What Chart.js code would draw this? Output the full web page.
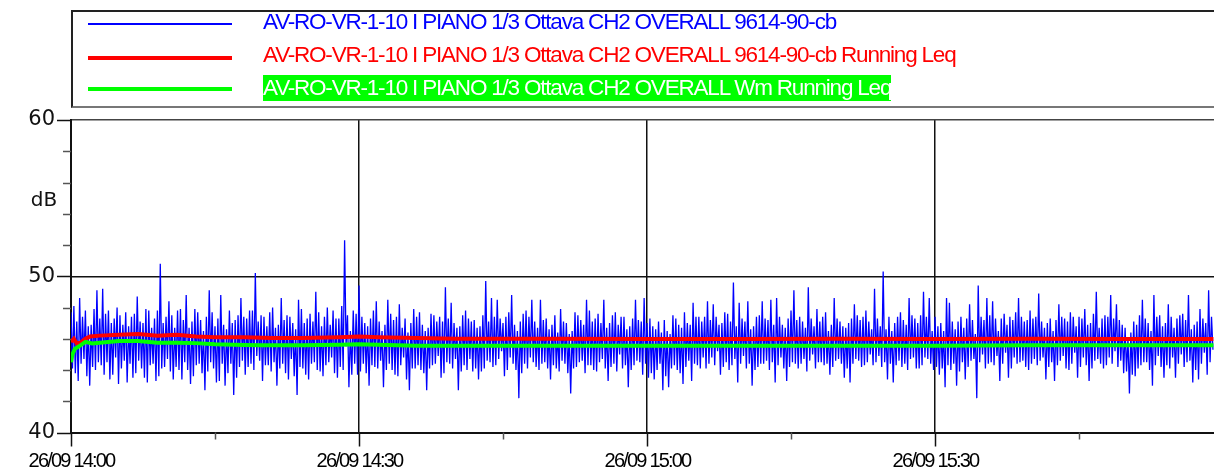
<!DOCTYPE html>
<html>
<head>
<meta charset="utf-8">
<title>AV-RO-VR-1-10 I PIANO - CH2 OVERALL</title>
<script src="https://cdn.jsdelivr.net/npm/chart.js@4.4.1/dist/chart.umd.min.js"></script>
<style>
  html, body { margin: 0; padding: 0; background: #fff; }
  #wrap { position: relative; width: 1214px; height: 470px; overflow: hidden; }
  #chart { position: absolute; left: 0; top: 0; }
  #legend {
    position: absolute; left: 71px; top: 10px; width: 1200px; height: 94px;
    border-top: 2px solid #222; border-left: 2px solid #222; border-bottom: 2px solid #777;
    font-family: "Liberation Sans", Arial, sans-serif; font-size: 22.5px; letter-spacing: -1.2px;
    background: #fff;
  }
  .lg-line { position: absolute; left: 15px; width: 144px; }
  .lg-text { position: absolute; left: 190px; line-height: 26px; white-space: nowrap; }
</style>
</head>
<body>
<div id="wrap">
  <canvas id="chart" width="1214" height="470"></canvas>
  <div id="legend">
    <div class="lg-line" style="top:11px;height:1.5px;background:#0000ff"></div>
    <div class="lg-text" style="top:-3px;color:#0000ff">AV-RO-VR-1-10 I PIANO 1/3 Ottava CH2 OVERALL 9614-90-cb</div>
    <div class="lg-line" style="top:44px;height:4px;background:#ff0000"></div>
    <div class="lg-text" style="top:30px;color:#ff0000">AV-RO-VR-1-10 I PIANO 1/3 Ottava CH2 OVERALL 9614-90-cb Running Leq</div>
    <div class="lg-line" style="top:75px;height:4px;background:#00ff00"></div>
    <div class="lg-text" style="top:63px;color:#fff;background:#00ff00">AV-RO-VR-1-10 I PIANO 1/3 Ottava CH2 OVERALL Wm Running Leq</div>
  </div>
</div>
<script>
// =======================
// Data (minutes after 26/09 14:00, dB)
// =======================

const dateLabel = "26/09";
const startHour = 14;

// blue trace, 18 s bins from 14:00: highest and lowest level in each bin
const blueBinMin = 0.3;
const blueHigh = [
  47.7, 48.1, 47.1, 48.6, 47.4, 47.8, 46.8, 46.9, 47.9, 49.1, 47.3, 49.2, 47.6, 47.8, 47.0, 47.3, 48.0, 47.5, 46.9, 47.7,
  46.8, 47.4, 47.6, 48.7, 47.1, 47.0, 47.9, 47.8, 46.7, 47.3, 47.8, 50.8, 47.0, 47.4, 48.4, 47.5, 46.7, 47.8, 47.9, 47.2,
  48.8, 46.7, 47.1, 47.9, 47.7, 47.2, 46.5, 47.4, 49.1, 47.7, 46.8, 47.3, 48.8, 46.9, 46.6, 47.8, 47.0, 47.2, 47.5, 48.6,
  47.4, 47.3, 47.8, 47.8, 50.2, 47.1, 47.5, 47.4, 46.8, 47.7, 48.0, 46.7, 46.9, 48.6, 47.2, 47.5, 47.4, 47.0, 46.6, 48.5,
  47.9, 47.0, 47.3, 47.6, 47.1, 49.0, 47.7, 46.8, 47.4, 48.0, 46.9, 47.8, 47.3, 47.3, 48.1, 52.3, 47.5, 46.5, 47.8, 47.6,
  49.4, 47.4, 47.0, 46.8, 47.3, 47.8, 48.4, 47.1, 46.5, 46.9, 48.5, 47.6, 47.2, 47.4, 48.2, 46.7, 47.3, 46.4, 47.0, 47.9,
  47.4, 47.7, 46.9, 46.5, 46.7, 47.6, 47.5, 47.1, 47.4, 47.1, 49.3, 47.3, 48.3, 47.0, 46.7, 46.8, 47.5, 47.8, 47.3, 47.1,
  47.2, 46.7, 46.8, 47.5, 49.7, 47.1, 48.6, 47.4, 48.5, 47.3, 47.0, 47.4, 47.7, 48.8, 46.9, 46.5, 47.1, 47.6, 47.8, 47.4,
  48.5, 47.1, 46.7, 48.5, 47.2, 47.3, 46.6, 46.9, 47.5, 46.4, 47.9, 47.1, 47.0, 46.3, 46.5, 47.7, 47.5, 47.2, 46.9, 48.5,
  47.8, 47.1, 47.3, 47.6, 47.0, 48.5, 46.7, 47.0, 47.5, 47.7, 46.9, 47.4, 47.4, 46.6, 46.8, 47.3, 48.5, 47.2, 47.1, 48.6,
  47.0, 47.3, 46.8, 46.6, 47.1, 46.4, 47.2, 46.5, 46.3, 47.5, 47.3, 46.9, 46.7, 47.7, 47.0, 46.9, 48.3, 47.4, 47.4, 47.1,
  47.4, 48.4, 47.2, 48.2, 47.4, 46.9, 47.0, 47.7, 47.6, 47.1, 49.6, 46.8, 48.3, 47.3, 47.1, 48.4, 46.6, 46.8, 47.4, 47.5,
  48.4, 47.3, 47.2, 48.5, 46.9, 48.6, 47.4, 46.9, 46.7, 47.3, 47.8, 49.1, 47.2, 47.4, 47.1, 46.7, 49.3, 47.3, 46.8, 47.9,
  47.1, 47.4, 47.7, 46.5, 46.9, 48.6, 47.3, 47.1, 46.8, 46.7, 47.0, 47.3, 48.2, 47.5, 47.2, 47.4, 47.8, 47.1, 46.6, 49.2,
  47.3, 46.8, 50.3, 46.6, 47.4, 46.5, 47.0, 47.4, 47.7, 47.2, 46.9, 48.6, 47.5, 47.3, 47.0, 47.5, 49.0, 47.4, 48.6, 46.5,
  47.4, 46.8, 47.0, 46.5, 48.6, 48.3, 47.1, 46.6, 47.1, 47.4, 46.7, 47.3, 48.2, 47.2, 46.3, 49.4, 47.4, 47.2, 48.6, 47.5,
  48.4, 47.3, 46.5, 47.3, 47.6, 46.9, 47.4, 47.2, 47.7, 48.6, 47.4, 47.1, 47.2, 47.8, 47.3, 47.4, 48.9, 47.1, 46.7, 47.0,
  47.3, 46.5, 47.2, 48.2, 47.4, 47.3, 47.1, 47.7, 47.4, 46.8, 47.4, 47.3, 47.9, 46.9, 47.0, 47.6, 49.0, 46.7, 47.3, 47.5,
  47.4, 48.8, 47.3, 48.2, 47.2, 46.9, 46.7, 46.1, 46.4, 47.1, 46.9, 47.5, 48.5, 47.3, 47.0, 46.5, 48.8, 47.4, 47.5, 46.8,
  47.0, 48.2, 47.4, 46.7, 47.3, 47.5, 47.6, 47.2, 48.8, 46.6, 46.9, 47.1, 47.9, 47.3, 47.0, 49.1, 47.4
];
const blueLow = [
  44.1, 43.8, 43.3, 44.4, 44.7, 43.6, 43.0, 44.2, 44.0, 44.5, 44.3, 43.7, 44.5, 43.4, 43.7, 44.8, 43.1, 44.1, 44.6, 43.2,
  44.4, 43.5, 43.8, 44.6, 44.1, 43.5, 43.2, 44.3, 44.4, 43.3, 43.6, 44.1, 44.2, 44.7, 43.9, 43.4, 44.2, 44.0, 43.4, 44.5,
  44.0, 43.1, 43.6, 44.3, 44.4, 43.8, 42.7, 43.9, 44.5, 44.1, 43.2, 43.3, 44.4, 43.0, 43.8, 44.4, 42.4, 43.5, 44.2, 44.6,
  43.7, 44.2, 44.4, 44.0, 44.9, 44.6, 43.3, 44.3, 44.3, 43.9, 44.5, 43.0, 44.1, 44.4, 43.8, 43.4, 44.7, 43.6, 42.4, 44.2,
  44.1, 43.7, 43.4, 44.4, 44.5, 44.0, 43.9, 43.6, 44.3, 44.5, 44.8, 43.8, 43.5, 44.2, 44.0, 45.5, 42.9, 43.7, 44.4, 43.7,
  43.9, 44.4, 43.8, 43.0, 44.3, 44.2, 44.1, 44.6, 42.9, 44.0, 44.4, 44.0, 43.7, 43.6, 44.3, 44.8, 43.4, 42.7, 44.1, 44.1,
  44.3, 44.0, 43.8, 42.7, 44.1, 44.3, 44.4, 44.9, 43.5, 43.8, 44.5, 44.4, 44.1, 44.7, 42.7, 43.9, 44.3, 44.0, 44.7, 43.9,
  44.1, 43.4, 43.9, 44.1, 44.6, 44.5, 44.2, 44.3, 44.7, 45.2, 43.6, 44.0, 44.8, 44.4, 44.0, 42.2, 43.8, 44.4, 44.1, 44.8,
  44.5, 44.2, 44.0, 44.4, 44.5, 44.1, 43.4, 44.3, 44.1, 43.9, 44.6, 44.4, 43.8, 42.5, 44.1, 44.2, 44.5, 44.6, 43.8, 44.3,
  44.3, 44.0, 43.9, 44.5, 44.7, 44.1, 43.3, 44.2, 44.4, 43.9, 45.0, 44.1, 44.3, 42.9, 44.0, 44.3, 44.6, 44.5, 43.7, 44.4,
  43.5, 43.8, 43.4, 44.0, 44.4, 42.7, 43.6, 42.9, 44.1, 44.3, 44.0, 43.8, 43.1, 44.2, 44.6, 43.3, 44.4, 44.3, 44.1, 44.8,
  44.1, 44.4, 44.8, 44.3, 45.2, 43.7, 44.2, 44.5, 44.0, 44.3, 44.7, 43.2, 44.4, 44.9, 44.1, 44.4, 43.0, 44.0, 44.2, 44.4,
  44.4, 44.6, 44.0, 44.5, 43.2, 44.3, 44.8, 44.1, 43.3, 44.2, 44.5, 44.4, 44.1, 44.4, 44.7, 43.9, 44.6, 45.0, 44.1, 44.5,
  44.5, 44.3, 44.4, 43.7, 44.2, 44.6, 44.7, 44.4, 43.5, 44.1, 43.2, 44.4, 44.7, 44.6, 44.2, 44.3, 44.5, 45.0, 44.3, 44.5,
  44.9, 44.2, 44.5, 43.4, 44.4, 43.2, 44.3, 44.6, 44.2, 44.4, 44.0, 44.7, 44.8, 44.1, 44.1, 44.3, 44.8, 44.7, 44.4, 44.0,
  44.2, 43.7, 44.1, 42.9, 44.3, 44.0, 44.4, 43.0, 43.9, 44.5, 43.4, 44.2, 44.6, 44.7, 42.2, 44.5, 45.0, 44.1, 44.4, 44.5,
  44.3, 44.9, 43.3, 44.4, 45.1, 43.5, 44.1, 44.8, 44.4, 44.5, 44.6, 44.2, 44.0, 44.4, 44.7, 44.3, 44.6, 44.8, 43.4, 44.2,
  44.5, 43.3, 44.3, 44.6, 44.9, 44.1, 44.0, 44.4, 45.1, 43.5, 44.2, 44.8, 44.3, 43.3, 44.1, 44.6, 44.7, 44.4, 44.1, 44.3,
  44.8, 44.4, 45.2, 44.2, 44.6, 43.8, 43.9, 42.5, 43.7, 43.6, 44.1, 44.3, 44.5, 44.5, 44.0, 43.0, 44.3, 44.9, 44.2, 43.5,
  44.3, 44.1, 44.8, 43.5, 44.4, 45.0, 44.2, 44.5, 44.6, 43.2, 44.0, 43.4, 44.4, 45.1, 43.7, 44.5, 45.3
];

// running Leq (red)
const redTimes  = [0, 0.3, 0.6, 1.0, 1.5, 2.0, 3.0, 5.0, 7.0, 9.0, 11.0, 13.0, 15.0, 18.0, 21.0, 24.0, 28.0, 30.0, 32.0, 36.0, 40.0, 50.0, 60.0, 70.0, 80.0, 90.0, 100.0, 110.0, 119.0];
const redValues = [45.8, 46.0, 45.7, 45.75, 46.0, 46.15, 46.2, 46.25, 46.3, 46.2, 46.25, 46.15, 46.1, 46.1, 46.05, 46.05, 46.1, 46.15, 46.1, 46.05, 46.0, 46.0, 45.98, 45.98, 46.0, 45.98, 46.0, 45.98, 45.98];

// Wm running Leq (green)
const greenTimes  = [0, 0.15, 0.4, 0.8, 1.5, 2.2, 3.0, 5.0, 7.0, 9.0, 11.0, 13.0, 15.0, 18.0, 20.0, 24.0, 28.0, 30.0, 32.0, 36.0, 40.0, 50.0, 60.0, 70.0, 80.0, 90.0, 100.0, 110.0, 119.0];
const greenValues = [44.5, 45.0, 45.35, 45.5, 45.8, 45.7, 45.75, 45.85, 45.85, 45.75, 45.75, 45.72, 45.65, 45.6, 45.58, 45.58, 45.62, 45.65, 45.62, 45.56, 45.56, 45.56, 45.56, 45.56, 45.56, 45.56, 45.58, 45.58, 45.58];

const xMin = 0, xMax = 119.06;
const yMin = 40, yMax = 60;


// =======================
// Helpers
// =======================

function toPoints(xs, ys) {
  return ys.map((v, i) => ({ x: xs[i], y: v }));
}

function timeLabel(min) {
  const h = startHour + Math.floor(min / 60);
  const m = Math.round(min % 60);
  return `${dateLabel} ${h}:${String(m).padStart(2, "0")}`;
}

// each bin drawn as high then low, like the logger's min/max trace
const bluePoints = [];
blueHigh.forEach((hi, i) => {
  bluePoints.push({ x: i * blueBinMin, y: hi });
  bluePoints.push({ x: i * blueBinMin + blueBinMin / 2, y: blueLow[i] });
});


// =======================
// Axis decoration (tick marks, x labels, dB)
// =======================

const axisDecor = {
  id: "axisDecor",
  afterDraw(chart) {
    const { ctx, chartArea, scales } = chart;
    const xs = scales.x, ys = scales.y;
    ctx.save();

    // y tick marks
    ys.ticks.forEach(t => {
      const py = Math.round(ys.getPixelForValue(t.value)) + 0.5;
      const major = t.value % 10 === 0;
      ctx.strokeStyle = major ? "#111" : "#555";
      ctx.lineWidth = 1.5;
      ctx.beginPath();
      ctx.moveTo(chartArea.left - (major ? 14 : 8), py);
      ctx.lineTo(chartArea.left, py);
      ctx.stroke();
    });

    // x tick marks + labels
    ctx.font = '20px "Liberation Sans", Arial, sans-serif';
    ctx.fillStyle = "#000";
    ctx.textAlign = "center";
    ctx.textBaseline = "alphabetic";
    if ("letterSpacing" in ctx) ctx.letterSpacing = "-1.8px";
    xs.ticks.forEach(t => {
      if (t.value % 15 !== 0) return;
      const px = Math.round(xs.getPixelForValue(t.value)) + 0.5;
      const major = t.value % 30 === 0;
      ctx.strokeStyle = major ? "#111" : "#555";
      ctx.lineWidth = 1.5;
      ctx.beginPath();
      ctx.moveTo(px, chartArea.bottom);
      ctx.lineTo(px, chartArea.bottom + (major ? 14 : 7));
      ctx.stroke();
      if (major) ctx.fillText(timeLabel(t.value), px, chartArea.bottom + 34.5);
    });
    if ("letterSpacing" in ctx) ctx.letterSpacing = "0px";

    // unit label
    ctx.font = '20px "DejaVu Sans", sans-serif';
    ctx.fillStyle = "#111";
    ctx.textAlign = "center";
    ctx.textBaseline = "middle";
    ctx.fillText("dB", 44, ys.getPixelForValue(54.8));

    ctx.restore();
  }
};


// =======================
// Chart
// =======================

new Chart(document.getElementById("chart").getContext("2d"), {
  type: "line",
  data: {
    datasets: [
      {
        label: "AV-RO-VR-1-10 I PIANO 1/3 Ottava CH2 OVERALL Wm Running Leq",
        data: toPoints(greenTimes, greenValues),
        borderColor: "#00ff00",
        borderWidth: 4,
        order: 1
      },
      {
        label: "AV-RO-VR-1-10 I PIANO 1/3 Ottava CH2 OVERALL 9614-90-cb Running Leq",
        data: toPoints(redTimes, redValues),
        borderColor: "#ff0000",
        borderWidth: 4,
        order: 2
      },
      {
        label: "AV-RO-VR-1-10 I PIANO 1/3 Ottava CH2 OVERALL 9614-90-cb",
        data: bluePoints,
        borderColor: "#0000ff",
        borderWidth: 1.3,
        order: 3
      }
    ]
  },
  options: {
    responsive: false,
    animation: false,
    devicePixelRatio: 1,
    layout: { padding: { top: 120, right: 0, bottom: 0, left: 0 } },
    elements: { point: { radius: 0 }, line: { tension: 0, borderJoinStyle: "miter" } },
    plugins: { legend: { display: false }, tooltip: { enabled: false } },
    scales: {
      x: {
        type: "linear",
        min: xMin,
        max: xMax,
        ticks: { stepSize: 15, display: false },
        grid: {
          drawTicks: false,
          lineWidth: 1.5,
          color: c => (c.tick && c.tick.value % 30 === 0 && c.tick.value > 0) ? "#111" : "rgba(0,0,0,0)"
        },
        border: { color: "#111", width: 2 },
        afterFit: s => { s.height = 37.5; }
      },
      y: {
        min: yMin,
        max: yMax,
        ticks: {
          stepSize: 2,
          padding: 16,
          color: "#111",
          font: { family: "'DejaVu Sans', sans-serif", size: 21 },
          callback: v => (v % 10 === 0 ? String(v) : "")
        },
        grid: {
          drawTicks: false,
          lineWidth: 1.5,
          color: c => (c.tick && c.tick.value === 50) ? "#111" : (c.tick && c.tick.value === 60) ? "#444" : "rgba(0,0,0,0)"
        },
        border: { color: "#111", width: 2 },
        afterFit: s => { s.width = 71; }
      }
    }
  },
  plugins: [axisDecor]
});
</script>
</body>
</html>
